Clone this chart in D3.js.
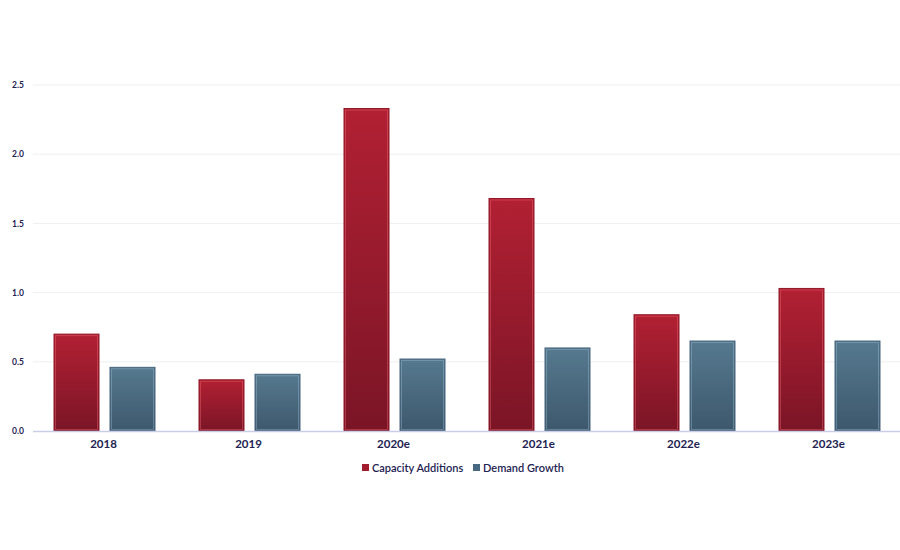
<!DOCTYPE html>
<html><head><meta charset="utf-8">
<script src="https://cdn.jsdelivr.net/npm/d3@7"></script>
<style>body{margin:0;background:#fff}svg{display:block}</style>
</head><body>
<svg id="c" width="900" height="550"></svg>
<script>
const categories = ["2018","2019","2020e","2021e","2022e","2023e"];
const seriesNames = ["Capacity Additions","Demand Growth"];
const capacityAdditions = [0.70,0.37,2.33,1.68,0.84,1.03];
const demandGrowth = [0.46,0.41,0.52,0.60,0.65,0.65];
const yTicks = [0,0.5,1.0,1.5,2.0,2.5];

const svg = d3.select("#c");
const defs = svg.append("defs");
function grad(id, top, bot){
  const g = defs.append("linearGradient").attr("id",id).attr("x1",0).attr("y1",0).attr("x2",0).attr("y2",1);
  g.append("stop").attr("offset","0%").attr("stop-color",top);
  g.append("stop").attr("offset","100%").attr("stop-color",bot);
}
grad("gRed","#b22033","#7a1526");
grad("gBlue","#56798f","#3d586c");

const x0 = d3.scaleBand().domain(categories).range([31,901]).paddingInner(0).paddingOuter(0);
const y = d3.scaleLinear().domain([0,2.5]).range([431,85]);
const textCol = "#222250";
const font = "Lato, 'Open Sans', sans-serif";

// gridlines
svg.append("g").selectAll("line").data(yTicks.slice(1)).join("line")
  .attr("x1",33).attr("x2",900).attr("y1",d=>y(d)).attr("y2",d=>y(d))
  .attr("stroke","#efefef").attr("stroke-width",1);

// y tick labels
const yAxis = d3.axisLeft(y).tickValues(yTicks).tickFormat(d3.format(".1f")).tickSize(0).tickPadding(0);
const ya = svg.append("g").attr("transform","translate(24,0)").call(yAxis);
ya.select(".domain").remove();
ya.selectAll("text").attr("font-family",font).attr("font-size",8.5).attr("font-weight","bold").attr("fill",textCol);

const barW = 45, gap = 11, pad = 23;
const data = categories.map((c,i)=>({c, vals:[capacityAdditions[i], demandGrowth[i]]}));
const fills = ["url(#gRed)","url(#gBlue)"];
const strokes = ["#8f1828","#46657c"];
const inner = ["rgba(255,120,130,0.35)","rgba(170,200,220,0.35)"];
const g = svg.append("g");
data.forEach(d=>{
  d.vals.forEach((v,j)=>{
    const bx = x0(d.c) + pad + j*(barW+gap);
    g.append("rect").attr("x",bx).attr("y",y(v)).attr("width",barW).attr("height",y(0)-y(v))
      .attr("fill",fills[j]).attr("stroke",strokes[j]).attr("stroke-width",1);
    g.append("rect").attr("x",bx+1.5).attr("y",y(v)+1.5).attr("width",barW-3).attr("height",Math.max(0,y(0)-y(v)-3))
      .attr("fill","none").attr("stroke",inner[j]).attr("stroke-width",1);
  });
});

// x axis line
svg.append("line").attr("x1",33).attr("x2",900).attr("y1",431.5).attr("y2",431.5).attr("stroke","#c9cde6").attr("stroke-width",1.5);

// x axis labels
const xAxis = d3.axisBottom(x0).tickSize(0).tickPadding(0);
const xa = svg.append("g").attr("transform","translate(0,440)").call(xAxis);
xa.select(".domain").remove();
xa.selectAll("text").attr("font-family",font).attr("font-size",11.5).attr("font-weight","bold").attr("fill",textCol).attr("dy","0.71em");

// legend
const legColors = ["#a01c2e","#476981"];
const leg = svg.append("g").attr("font-family",font).attr("font-size",11).attr("font-weight",600).attr("fill",textCol);
const legX = [362,473];
seriesNames.forEach((n,i)=>{
  leg.append("rect").attr("x",legX[i]).attr("y",464).attr("width",7).attr("height",7).attr("fill",legColors[i]);
  leg.append("text").attr("x",legX[i]+10).attr("y",472).text(n).attr("fill",textCol);
});
</script>
</body></html>
